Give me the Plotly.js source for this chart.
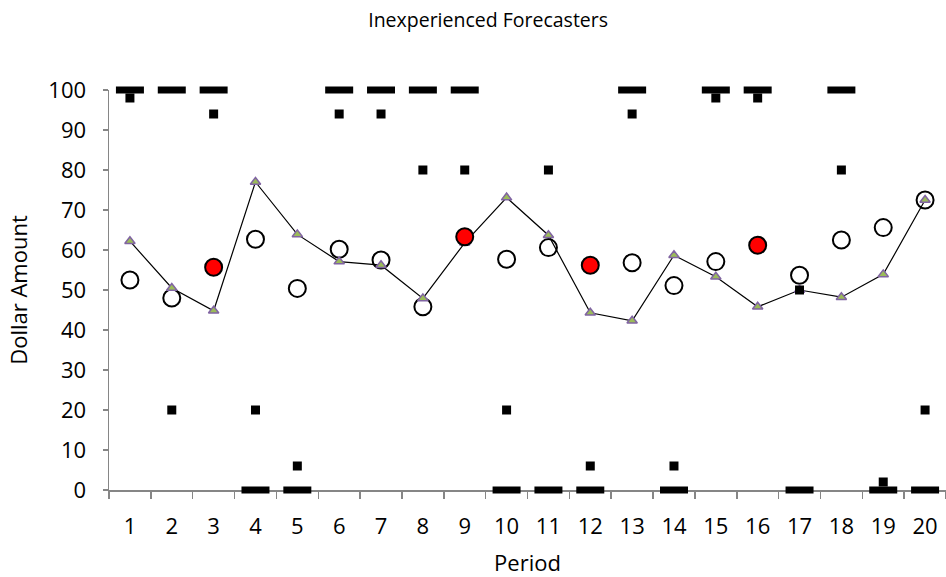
<!DOCTYPE html>
<html>
<head>
<meta charset="utf-8">
<script src="https://cdn.plot.ly/plotly-3.0.1.min.js"></script>
<style>html,body{margin:0;padding:0;background:#fff;}#chart{width:946px;height:577px;}</style>
</head>
<body>
<div id="chart"></div>
<script>
var periods = ['1','2','3','4','5','6','7','8','9','10','11','12','13','14','15','16','17','18','19','20'];
var forecasterA = [100,100,100,0,0,100,100,100,100,0,0,0,100,0,100,100,0,100,0,0];
var forecasterB = [98,20,94,20,6,94,94,80,80,20,80,6,94,6,98,98,50,80,2,20];
var meanForecast = [62.2,50.5,44.8,77,63.9,57.1,56.2,47.9,61.8,73.1,63.7,44.3,42.3,58.7,53.3,45.8,50,48.2,53.9,72.5];
var openOutcome = [52.5,48,null,62.7,50.4,60.2,57.5,45.8,null,57.7,60.6,null,56.8,51.1,57.1,null,53.7,62.5,65.6,72.5];
var redOutcome = [null,null,55.7,null,null,null,null,null,63.3,null,null,56.2,null,null,null,61.2,null,null,null,null];

var FONT = 'Open Sans, Lato, sans-serif';
var GREY = '#868686';

var traces = [
  {x: periods, y: openOutcome, type: 'scatter', mode: 'markers', name: 'Outcome', cliponaxis: false,
   marker: {symbol: 'circle', size: 17, color: 'rgba(255,255,255,0)', line: {color: '#000', width: 2}}},
  {x: periods, y: meanForecast, type: 'scatter', mode: 'lines+markers', name: 'Average forecast', cliponaxis: false,
   line: {color: '#000', width: 1.2},
   marker: {symbol: 'triangle-up', size: 9, color: '#9BBB59', line: {color: '#8064A2', width: 1.5}}},
  {x: periods, y: redOutcome, type: 'scatter', mode: 'markers', name: 'Outcome (highlighted)', cliponaxis: false,
   marker: {symbol: 'circle', size: 17, color: '#FF0000', line: {color: '#000', width: 2}}},
  {x: periods, y: forecasterA, type: 'scatter', mode: 'markers', name: 'Forecaster A', cliponaxis: false,
   marker: {symbol: 'line-ew', size: 20, color: '#000', line: {color: '#000', width: 7}}},
  {x: periods, y: forecasterB, type: 'scatter', mode: 'markers', name: 'Forecaster B', cliponaxis: false,
   marker: {symbol: 'square', size: 9, color: '#000', line: {width: 0}}}
];

var layout = {
  width: 946, height: 577,
  margin: {l: 109, r: 0, t: 90, b: 87},
  paper_bgcolor: '#fff', plot_bgcolor: '#fff',
  showlegend: false,
  font: {family: FONT, size: 22, color: '#000'},
  title: {text: 'Inexperienced Forecasters', font: {family: FONT, size: 19.5, color: '#000'},
          xref: 'container', x: 0.516, xanchor: 'center', yref: 'container', y: 0.965, yanchor: 'middle'},
  xaxis: {
    type: 'category', tickson: 'boundaries', range: [-0.5, 19.5],
    showline: true, linecolor: GREY, linewidth: 1.5, layer: 'below traces',
    ticks: 'outside', ticklen: 7, tickcolor: GREY, tickwidth: 1.5,
    showgrid: false, zeroline: false,
    ticklabelstandoff: 16,
    tickfont: {family: FONT, size: 22, color: '#000'},
    title: {text: 'Period', font: {family: FONT, size: 22, color: '#000'}, standoff: 17}
  },
  yaxis: {
    range: [0, 100], dtick: 10, tick0: 0,
    showline: true, linecolor: GREY, linewidth: 1.5, layer: 'below traces',
    ticks: 'outside', ticklen: 5, tickcolor: GREY, tickwidth: 1.5,
    showgrid: false, zeroline: false,
    ticklabelstandoff: 12,
    tickfont: {family: FONT, size: 22, color: '#000'},
    title: {text: 'Dollar Amount', font: {family: FONT, size: 22, color: '#000'}, standoff: 14}
  }
};

Plotly.newPlot('chart', traces, layout, {displayModeBar: false, staticPlot: true});
</script>
</body>
</html>
